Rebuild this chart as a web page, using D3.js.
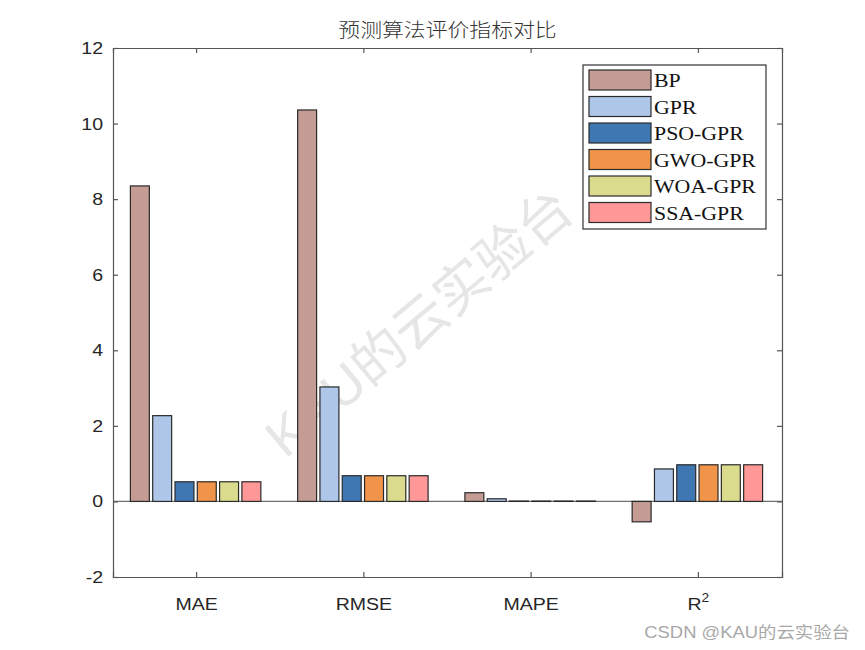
<!DOCTYPE html>
<html><head><meta charset="utf-8">
<script src="https://cdn.jsdelivr.net/npm/d3@7"></script>
<style>body{margin:0;background:#fff;}</style>
</head><body>
<script>
const categories = ["MAE", "RMSE", "MAPE", "R2"];
const seriesNames = ["BP", "GPR", "PSO-GPR", "GWO-GPR", "WOA-GPR", "SSA-GPR"];
const BP      = [8.35, 10.36, 0.23, -0.54];
const GPR     = [2.27, 3.03, 0.07, 0.86];
const PSO_GPR = [0.52, 0.68, 0.01, 0.97];
const GWO_GPR = [0.52, 0.68, 0.01, 0.97];
const WOA_GPR = [0.52, 0.68, 0.01, 0.97];
const SSA_GPR = [0.52, 0.68, 0.01, 0.97];
const colors = ["#c49c94", "#aec7e8", "#3e77b1", "#f0944a", "#dbdb8d", "#ff9896"];
const yTicks = [-2, 0, 2, 4, 6, 8, 10, 12];
const title = "预测算法评价指标对比";

const series = [BP, GPR, PSO_GPR, GWO_GPR, WOA_GPR, SSA_GPR];
const W = 865, H = 650;
const SX = 1.15; // horizontal stretch of text in the reference
const m = {l: 113, r: 83, t: 48, b: 73};
const svg = d3.select("body").append("svg").attr("width", W).attr("height", H);

const x = d3.scaleBand().domain(categories).range([m.l, W - m.r]).paddingInner(0).paddingOuter(0);
const x1 = d3.scaleBand().domain(seriesNames).range([0, x.bandwidth() * 0.8]).paddingInner(0.15).paddingOuter(0.075);
const y = d3.scaleLinear().domain([-2, 12]).range([H - m.b, m.t]);

function stretchedText(parent, px, py, anchor) {
  return parent.append("text").attr("transform", `translate(${px},${py}) scale(${SX},1)`)
    .attr("text-anchor", anchor || "start");
}

const axisColor = "#262626";
// watermark
svg.append("text").attr("transform", `translate(422,326) rotate(-40)`)
  .attr("text-anchor", "middle").attr("dominant-baseline", "middle")
  .style("font-family", "Liberation Sans, 'Noto Sans CJK SC', sans-serif")
  .style("font-size", "54px").style("fill", "#e6e6e6").text("KAU的云实验台");

// zero line
svg.append("line").attr("x1", m.l).attr("x2", W - m.r).attr("y1", y(0)).attr("y2", y(0))
  .attr("stroke", "#707070").attr("stroke-width", 1.2);

// bars
const g = svg.append("g");
categories.forEach((c, ci) => {
  const gx = x(c) + x.bandwidth() * 0.1;
  series.forEach((s, si) => {
    const v = s[ci];
    g.append("rect")
      .attr("x", gx + x1(seriesNames[si]) - 1)
      .attr("width", x1.bandwidth())
      .attr("y", Math.min(y(v), y(0)))
      .attr("height", Math.abs(y(v) - y(0)))
      .attr("fill", colors[si]).attr("stroke", "#2a2a2a").attr("stroke-width", 1.2);
  });
});

// axes
const fontAx = "Liberation Sans, Arial, sans-serif";
const yAxis = d3.axisLeft(y).tickValues(yTicks).tickSize(-5).tickPadding(10).tickFormat(d => String(d));
const ya = svg.append("g").attr("transform", `translate(${m.l},0)`).call(yAxis);
const yr = svg.append("g").attr("transform", `translate(${W - m.r},0)`).call(d3.axisRight(y).tickValues(yTicks).tickSize(-5).tickFormat(""));
const xa = svg.append("g").attr("transform", `translate(0,${H - m.b})`).call(d3.axisBottom(x).tickSize(-5).tickFormat(""));
const xt = svg.append("g").attr("transform", `translate(0,${m.t})`).call(d3.axisTop(x).tickSize(-5).tickFormat(""));
[ya, yr, xa, xt].forEach(a => {
  a.select(".domain").attr("stroke", "#555").attr("stroke-width", 1.2);
  a.selectAll(".tick line").attr("stroke", "#555").attr("stroke-width", 1.2);
});
ya.selectAll(".tick text").style("font-family", fontAx).style("font-size", "17px").attr("fill", axisColor)
  .attr("x", -10 / SX).attr("transform", `scale(${SX},1)`);

// x labels
categories.forEach(c => {
  const t = stretchedText(svg, x(c) + x.bandwidth() / 2, H - m.b + 33, "middle")
    .style("font-family", fontAx).style("font-size", "17px").attr("fill", axisColor);
  if (c === "R2") {
    t.append("tspan").text("R");
    t.append("tspan").attr("dy", -8).style("font-size", "12px").text("2");
  } else t.text(c);
});

// title
stretchedText(svg, (m.l + W - m.r) / 2, 37, "middle")
  .style("font-family", "'Noto Sans CJK SC', sans-serif").style("font-size", "19px")
  .style("font-weight", 300).attr("fill", "#333").text(title);

// legend
const lg = svg.append("g").attr("transform", "translate(583,65)");
lg.append("rect").attr("width", 183).attr("height", 164).attr("fill", "#fff").attr("stroke", "#333").attr("stroke-width", 1.2);
seriesNames.forEach((n, i) => {
  const yy = 5 + i * 26.5;
  lg.append("rect").attr("x", 6).attr("y", yy).attr("width", 62).attr("height", 20)
    .attr("fill", colors[i]).attr("stroke", "#2a2a2a").attr("stroke-width", 1.2);
  stretchedText(lg, 71, yy + 17).style("font-family", "'Liberation Serif', 'Times New Roman', serif")
    .style("font-size", "19px").attr("fill", "#111").text(n);
});

// csdn mark
stretchedText(svg, 850, 638, "end")
  .style("font-family", "Liberation Sans, 'Noto Sans CJK SC', sans-serif").style("font-size", "16px")
  .attr("fill", "#a8a8a8").text("CSDN @KAU的云实验台");
</script>
</body></html>
